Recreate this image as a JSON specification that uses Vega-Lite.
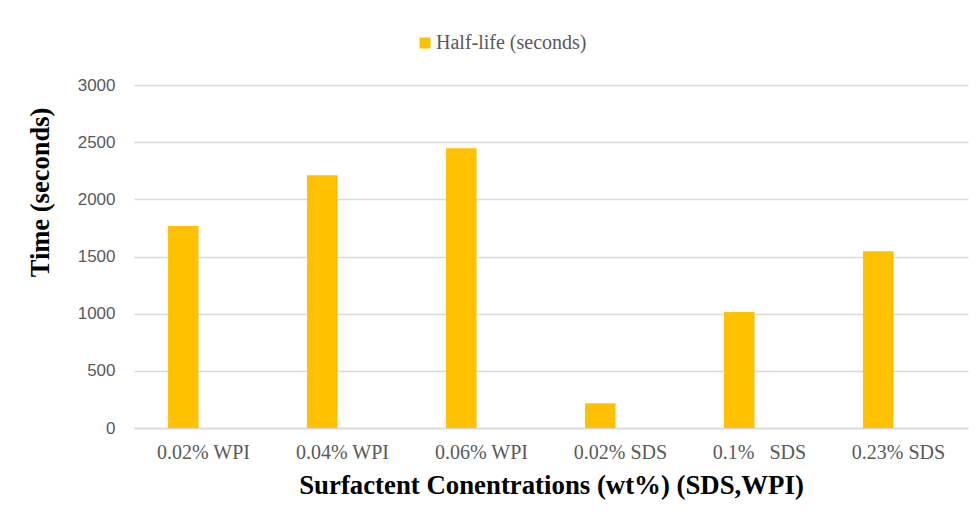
{
  "$schema": "https://vega.github.io/schema/vega-lite/v6.json",
  "width": 834,
  "height": 343,
  "autosize": {"type": "none"},
  "padding": {"left": 134, "top": 85, "right": 9, "bottom": 91},
  "background": "white",
  "data": {
    "values": [
      {"concentration": "0.02% WPI", "series": "Half-life (seconds)", "time": 1767},
      {"concentration": "0.04% WPI", "series": "Half-life (seconds)", "time": 2210},
      {"concentration": "0.06% WPI", "series": "Half-life (seconds)", "time": 2446},
      {"concentration": "0.02% SDS", "series": "Half-life (seconds)", "time": 216},
      {"concentration": "0.1%\u00a0\u00a0\u00a0SDS", "series": "Half-life (seconds)", "time": 1015},
      {"concentration": "0.23% SDS", "series": "Half-life (seconds)", "time": 1545}
    ]
  },
  "mark": {"type": "bar", "color": "#FFC000"},
  "encoding": {
    "x": {
      "field": "concentration",
      "type": "nominal",
      "sort": null,
      "scale": {"paddingInner": 0.49, "paddingOuter": 0.245},
      "axis": {
        "title": "Surfactent Conentrations (wt%) (SDS,WPI)",
        "labelAngle": 0,
        "labelFont": "Liberation Serif",
        "labelFontSize": 20,
        "labelColor": "#595959",
        "labelBaseline": "alphabetic",
        "labelPadding": 30,
        "ticks": false,
        "tickSize": 0,
        "domainColor": "#d9d9d9",
        "domainWidth": 1.5,
        "titleFont": "Liberation Serif",
        "titleFontSize": 26.8,
        "titleFontWeight": "bold",
        "titleColor": "#000000",
        "titleBaseline": "alphabetic",
        "titleY": 65
      }
    },
    "xOffset": {
      "field": "series",
      "type": "nominal",
      "scale": {"domain": ["Half-life (seconds)", "unused"], "paddingInner": 0.245, "paddingOuter": 0}
    },
    "y": {
      "field": "time",
      "type": "quantitative",
      "scale": {"domain": [0, 3000]},
      "axis": {
        "title": "Time (seconds)",
        "values": [0, 500, 1000, 1500, 2000, 2500, 3000],
        "format": "d",
        "labelFont": "Liberation Sans",
        "labelFontSize": 17,
        "labelColor": "#595959",
        "labelPadding": 19,
        "ticks": false,
        "tickSize": 0,
        "domain": false,
        "grid": true,
        "gridColor": "#d9d9d9",
        "gridWidth": 1.5,
        "titleFont": "Liberation Serif",
        "titleFontSize": 26.5,
        "titleFontWeight": "bold",
        "titleColor": "#000000",
        "titleAngle": -90,
        "titleAlign": "center",
        "titleBaseline": "middle",
        "titleX": -94,
        "titleY": 107
      }
    },
    "color": {
      "field": "series",
      "type": "nominal",
      "scale": {"range": ["#FFC000"]},
      "legend": {
        "title": null,
        "orient": "none",
        "legendX": 281,
        "legendY": -52,
        "padding": 0,
        "symbolType": "square",
        "symbolSize": 121,
        "symbolStrokeWidth": 0,
        "symbolOpacity": 1,
        "labelFont": "Liberation Serif",
        "labelFontSize": 20,
        "labelColor": "#595959",
        "labelOffset": 1
      }
    }
  },
  "config": {
    "view": {"stroke": null}
  }
}
